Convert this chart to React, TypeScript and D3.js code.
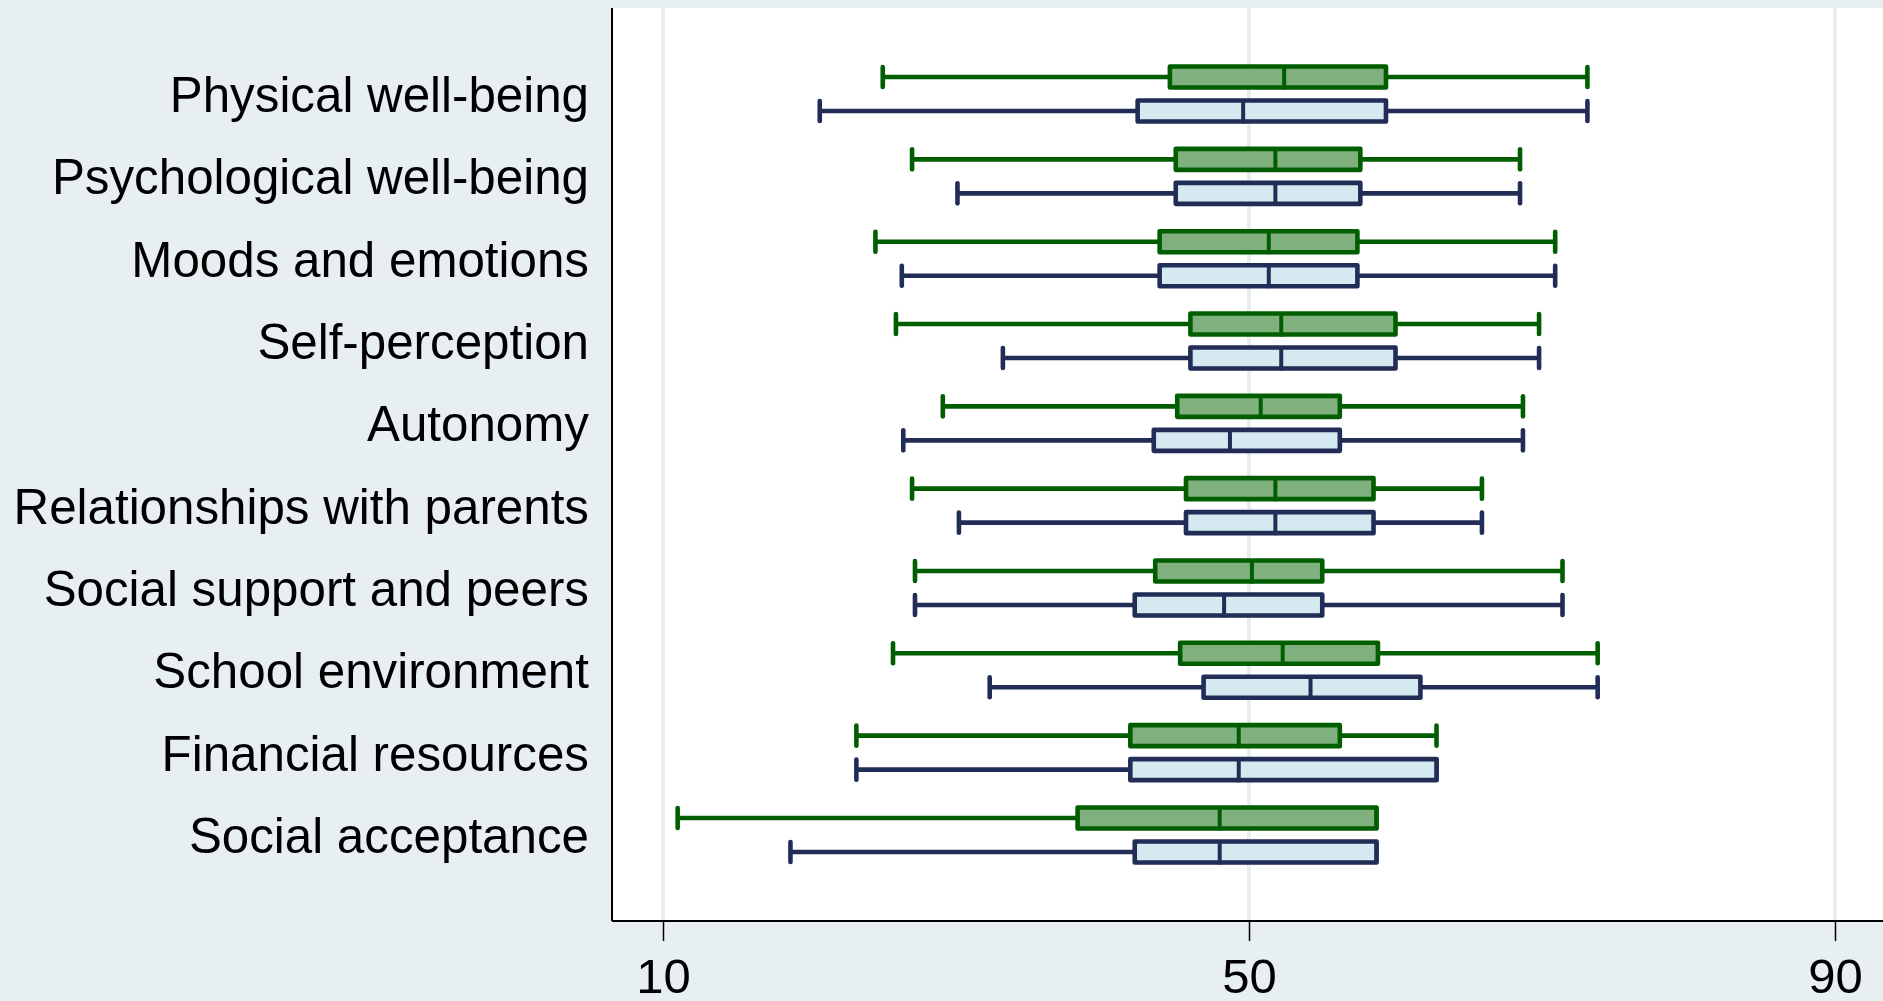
import React, { useEffect, useRef } from 'react';
import * as d3 from 'd3';

const categories = [
  'Physical well-being',
  'Psychological well-being',
  'Moods and emotions',
  'Self-perception',
  'Autonomy',
  'Relationships with parents',
  'Social support and peers',
  'School environment',
  'Financial resources',
  'Social acceptance',
];

// green group (upper box in each row)
const greenMin = [25.0, 27.0, 24.5, 25.9, 29.1, 27.0, 27.2, 25.7, 23.2, 11.0];
const greenQ1 = [44.6, 45.0, 43.9, 46.0, 45.1, 45.7, 43.6, 45.3, 41.9, 38.3];
const greenMedian = [52.4, 51.8, 51.35, 52.2, 50.8, 51.8, 50.2, 52.3, 49.3, 48.0];
const greenQ3 = [59.35, 57.6, 57.4, 60.0, 56.2, 58.5, 55.0, 58.8, 56.2, 58.7];
const greenMax = [73.1, 68.5, 70.9, 69.8, 68.7, 65.9, 71.4, 73.8, 62.8, 58.7];

// blue group (lower box in each row)
const blueMin = [20.7, 30.1, 26.3, 33.2, 26.4, 30.2, 27.2, 32.3, 23.2, 18.7];
const blueQ1 = [42.4, 45.0, 43.9, 46.0, 43.5, 45.7, 42.2, 46.9, 41.9, 42.2];
const blueMedian = [49.6, 51.8, 51.35, 52.2, 48.7, 51.8, 48.3, 54.2, 49.3, 48.0];
const blueQ3 = [59.35, 57.6, 57.4, 60.0, 56.2, 58.5, 55.0, 61.7, 62.8, 58.7];
const blueMax = [73.1, 68.5, 70.9, 69.8, 68.7, 65.9, 71.4, 73.8, 62.8, 58.7];

const xTicks = [10, 50, 90];

const WIDTH = 1883;
const HEIGHT = 1001;
const BG = '#e8eff2';
const FONT = 'Liberation Sans, Arial, sans-serif';

export default function App() {
  const svgRef = useRef(null);

  useEffect(() => {
    const svg = d3.select(svgRef.current);
    svg.selectAll('*').remove();

    const plot = { left: 612, right: 1883, top: 8, bottom: 921 };

    const x = d3.scaleLinear().domain([10, 90]).range([663, 1835]);
    const y = d3.scalePoint().domain(categories).range([plot.top, plot.bottom]).padding(1.045);

    svg.append('rect').attr('width', WIDTH).attr('height', HEIGHT).attr('fill', BG);
    svg
      .append('rect')
      .attr('x', plot.left)
      .attr('y', plot.top)
      .attr('width', plot.right - plot.left)
      .attr('height', plot.bottom - plot.top)
      .attr('fill', '#ffffff');

    // grid
    svg
      .append('g')
      .selectAll('line')
      .data(xTicks)
      .join('line')
      .attr('x1', d => x(d))
      .attr('x2', d => x(d))
      .attr('y1', plot.top)
      .attr('y2', plot.bottom)
      .attr('stroke', '#e6eef1')
      .attr('stroke-width', 4);

    const groups = [
      { min: greenMin, q1: greenQ1, med: greenMedian, q3: greenQ3, max: greenMax, off: -17, stroke: '#005e00', fill: '#80b07e' },
      { min: blueMin, q1: blueQ1, med: blueMedian, q3: blueQ3, max: blueMax, off: 17, stroke: '#212c57', fill: '#d4eaf0' },
    ];

    const boxH = 21;
    const capH = 20;
    const sw = 4.6;

    groups.forEach(g => {
      const layer = svg.append('g');
      categories.forEach((cat, i) => {
        const cy = y(cat) + g.off;
        const row = layer.append('g');
        // whiskers
        row
          .append('line')
          .attr('x1', x(g.min[i]))
          .attr('x2', x(g.q1[i]))
          .attr('y1', cy)
          .attr('y2', cy)
          .attr('stroke', g.stroke)
          .attr('stroke-width', sw);
        row
          .append('line')
          .attr('x1', x(g.q3[i]))
          .attr('x2', x(g.max[i]))
          .attr('y1', cy)
          .attr('y2', cy)
          .attr('stroke', g.stroke)
          .attr('stroke-width', sw);
        [g.min[i], g.max[i]].forEach(v => {
          row
            .append('line')
            .attr('x1', x(v))
            .attr('x2', x(v))
            .attr('y1', cy - capH / 2)
            .attr('y2', cy + capH / 2)
            .attr('stroke', g.stroke)
            .attr('stroke-width', sw)
            .attr('stroke-linecap', 'round');
        });
        row
          .append('rect')
          .attr('x', x(g.q1[i]))
          .attr('y', cy - boxH / 2)
          .attr('width', x(g.q3[i]) - x(g.q1[i]))
          .attr('height', boxH)
          .attr('fill', g.fill)
          .attr('stroke', g.stroke)
          .attr('stroke-width', sw)
          .attr('stroke-linejoin', 'round');
        row
          .append('line')
          .attr('x1', x(g.med[i]))
          .attr('x2', x(g.med[i]))
          .attr('y1', cy - boxH / 2 - 1)
          .attr('y2', cy + boxH / 2 + 2)
          .attr('stroke', g.stroke)
          .attr('stroke-width', 4);
      });
    });

    // axes lines
    svg
      .append('line')
      .attr('x1', plot.left)
      .attr('x2', plot.left)
      .attr('y1', plot.top)
      .attr('y2', plot.bottom)
      .attr('stroke', '#000')
      .attr('stroke-width', 2);

    const xAxis = svg
      .append('g')
      .attr('transform', `translate(0, ${plot.bottom})`)
      .call(d3.axisBottom(x).tickValues(xTicks).tickSize(20).tickPadding(17).tickSizeOuter(0));
    xAxis.select('.domain').remove();
    xAxis.selectAll('.tick line').attr('stroke', '#000').attr('stroke-width', 1.5);
    xAxis
      .selectAll('.tick text')
      .attr('font-family', FONT)
      .attr('font-size', 49)
      .attr('fill', '#000');

    svg
      .append('line')
      .attr('x1', plot.left)
      .attr('x2', plot.right)
      .attr('y1', plot.bottom)
      .attr('y2', plot.bottom)
      .attr('stroke', '#000')
      .attr('stroke-width', 2);

    // category labels
    svg
      .append('g')
      .selectAll('text')
      .data(categories)
      .join('text')
      .attr('x', 589)
      .attr('y', d => y(d) + 18)
      .attr('text-anchor', 'end')
      .attr('font-family', FONT)
      .attr('font-size', 49.3)
      .attr('fill', '#000')
      .text(d => d);
  }, []);

  return (
    <svg
      ref={svgRef}
      width={WIDTH}
      height={HEIGHT}
      style={{ position: 'absolute', left: 0, top: 0, display: 'block' }}
    />
  );
}
